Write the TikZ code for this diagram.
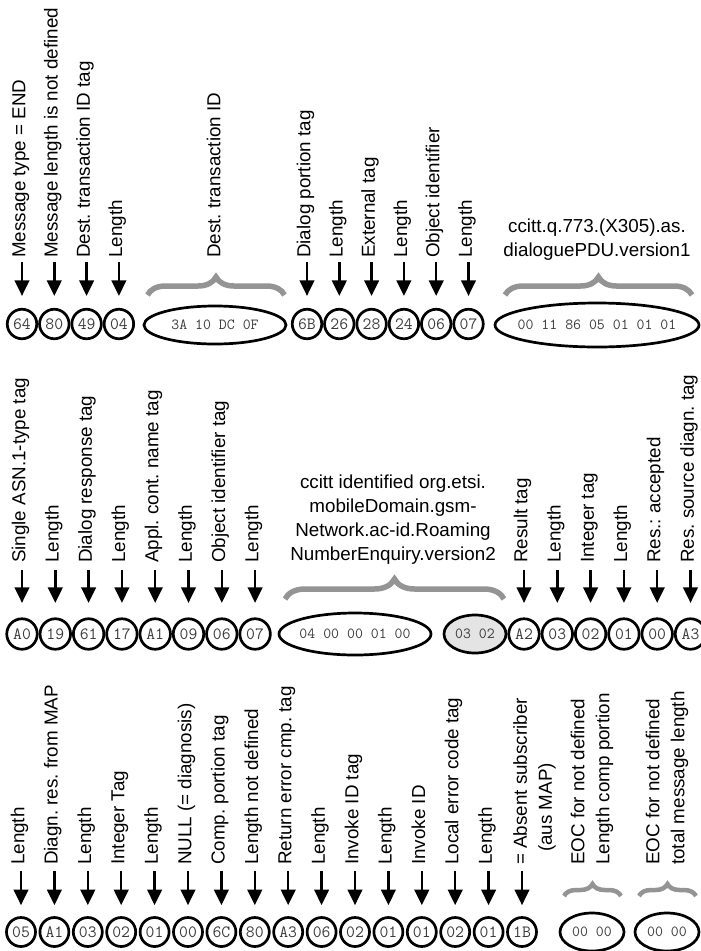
\documentclass[tikz,border=0pt]{standalone}
\usepackage{fontspec}
\setmainfont{Liberation Sans}
\usetikzlibrary{shapes.geometric,arrows.meta,decorations.pathreplacing,calc}
\definecolor{bracegray}{RGB}{148,148,148}
\definecolor{hexgray}{RGB}{60,60,60}
\definecolor{fillgray}{RGB}{228,228,228}
\newcommand\hexfnt{\ttfamily\fontsize{15.4pt}{18pt}\selectfont}
\newcommand\bytefnt{\ttfamily\fontsize{17.2pt}{20pt}\selectfont}
\newcommand\labfnt{\fontsize{18.8pt}{25pt}\selectfont}
\newcommand\htfnt{\fontsize{18.8pt}{24pt}\selectfont}
\begin{document}
\frenchspacing
\begin{tikzpicture}[x=1pt,y=-1pt,
  lab/.style={rotate=90,anchor=west,inner sep=0pt,font=\labfnt,text height=13.5pt,text depth=4pt},
  mlab/.style={rotate=90,anchor=west,inner sep=0pt,font=\labfnt,align=left},
  htxt/.style={inner sep=0pt,font=\htfnt,align=center,anchor=south},
  byte/.style={circle,draw,line width=2.7pt,inner sep=0pt,text=hexgray,font=\bytefnt},
  oval/.style={ellipse,draw,line width=2.7pt,inner sep=0pt,text=hexgray,font=\hexfnt},
  arr/.style={line width=2.5pt,-{Triangle[length=15.5pt,width=14.5pt]}},
  brc/.style={draw=bracegray,line width=5.5pt,decorate,decoration={brace,amplitude=18pt}},
  brcs/.style={draw=bracegray,line width=4.5pt,decorate,decoration={brace,amplitude=12pt}},
]
\useasboundingbox (0,0) rectangle (701,951);
\clip (0,0) rectangle (701,951);

% ---------- Row 1 ----------
\foreach \i/\x/\h/\t in {1/22/64/{Message type = END},2/54.3/80/{Message length is not defined},3/86.6/49/{Dest. transaction ID tag},4/118.9/04/{Length},5/307/6B/{Dialog portion tag},6/339.3/26/{Length},7/371.6/28/{External tag},8/403.9/24/{Length},9/436.2/06/{Object identifier},10/468.5/07/{Length}}{
  \node[byte,minimum size=29.5pt] (a\i) at (\x,324) {\makebox[0pt]{\h}};
  \node[lab] (la\i) at (\x-1.5,258) {\t};
  \draw[arr] ($(a\i.north)+(0,-46)$) -- ($(a\i.north)+(0,-12)$);
}
\node[oval,minimum width=142pt,minimum height=38pt] (ea) at (215,325) {\makebox[0pt]{3A 10 DC 0F}};
\node[oval,minimum width=204pt,minimum height=44pt] (eb) at (597,325) {\makebox[0pt]{00 11 86 05 01 01 01}};
\draw[brc] (147.5,295) -- (284.5,295);
\draw[brc] (505,295) -- (692,295);
\node[lab] (lea) at (215.5,258) {Dest. transaction ID};
\node[htxt] (leb) at (597,261) {ccitt.q.773.(X305).as.\\dialoguePDU.version1};

% ---------- Row 2 ----------
\foreach \i/\x/\h/\t in {1/22/A0/{Single ASN.1-type tag},2/55.3/19/{Length},3/88.6/61/{Dialog response tag},4/121.9/17/{Length},5/155.2/A1/{Appl. cont. name tag},6/188.5/09/{Length},7/221.8/06/{Object identifier tag},8/255.1/07/{Length},9/524/A2/{Result tag},10/557.3/03/{Length},11/590.6/02/{Integer tag},12/623.9/01/{Length},13/657.2/00/{Res.: accepted},14/690.5/A3/{Res. source diagn. tag}}{
  \node[byte,minimum size=30.5pt] (b\i) at (\x,634) {\makebox[0pt]{\h}};
  \node[lab] (lb\i) at (\x-1.5,563) {\t};
  \draw[arr] ($(b\i.north)+(0,-47.5)$) -- ($(b\i.north)+(0,-14.5)$);
}
\node[oval,minimum width=152pt,minimum height=42pt] (ec) at (355,634) {\makebox[0pt]{04 00 00 01 00}};
\node[oval,fill=fillgray,minimum width=62pt,minimum height=38pt] (ed) at (475,634) {\makebox[0pt]{03 02}};
\draw[brc,decoration={brace,amplitude=20pt}] (285,599) -- (504,599);
\node[htxt] (lec) at (393,565) {ccitt identified org.etsi.\\mobileDomain.gsm-\\Network.ac-id.Roaming\\NumberEnquiry.version2};

% ---------- Row 3 ----------
\foreach \i/\x/\h/\t in {1/21/05/{Length},2/54.4/A1/{Diagn. res. from MAP},3/87.8/03/{Length},4/121.2/02/{Integer Tag},5/154.6/01/{Length},6/188/00/{NULL (= diagnosis)},7/221.4/6C/{Comp. portion tag},8/254.8/80/{Length not defined},9/288.2/A3/{Return error cmp. tag},10/321.6/06/{Length},11/355/02/{Invoke ID tag},12/388.4/01/{Length},13/421.8/01/{Invoke ID},14/455.2/02/{Local error code tag},15/488.6/01/{Length}}{
  \node[byte,minimum size=29pt] (c\i) at (\x,932) {\makebox[0pt]{\h}};
  \node[lab] (lc\i) at (\x-1.5,865) {\t};
  \draw[arr] ($(c\i.north)+(0,-45)$) -- ($(c\i.north)+(0,-11)$);
}
\node[byte,minimum size=29pt] (c16) at (522,932) {\makebox[0pt]{1B}};
\node[mlab] (lc16) at (534.5,865) {= Absent subscriber\\\hspace*{13pt}(aus MAP)};
\draw[arr] ($(c16.north)+(0,-45)$) -- ($(c16.north)+(0,-11)$);

\node[oval,minimum width=64pt,minimum height=38pt] (ee) at (592,932) {\makebox[0pt]{00 00}};
\node[oval,minimum width=64pt,minimum height=38pt] (ef) at (667,932) {\makebox[0pt]{00 00}};
\draw[brcs] (564,896) -- (621,896);
\draw[brcs] (639,896) -- (696,896);
\node[mlab] (lee) at (592,865) {EOC for not defined\\Length comp portion};
\node[mlab] (lef) at (667,865) {EOC for not defined\\total message length};
\end{tikzpicture}
\end{document}
